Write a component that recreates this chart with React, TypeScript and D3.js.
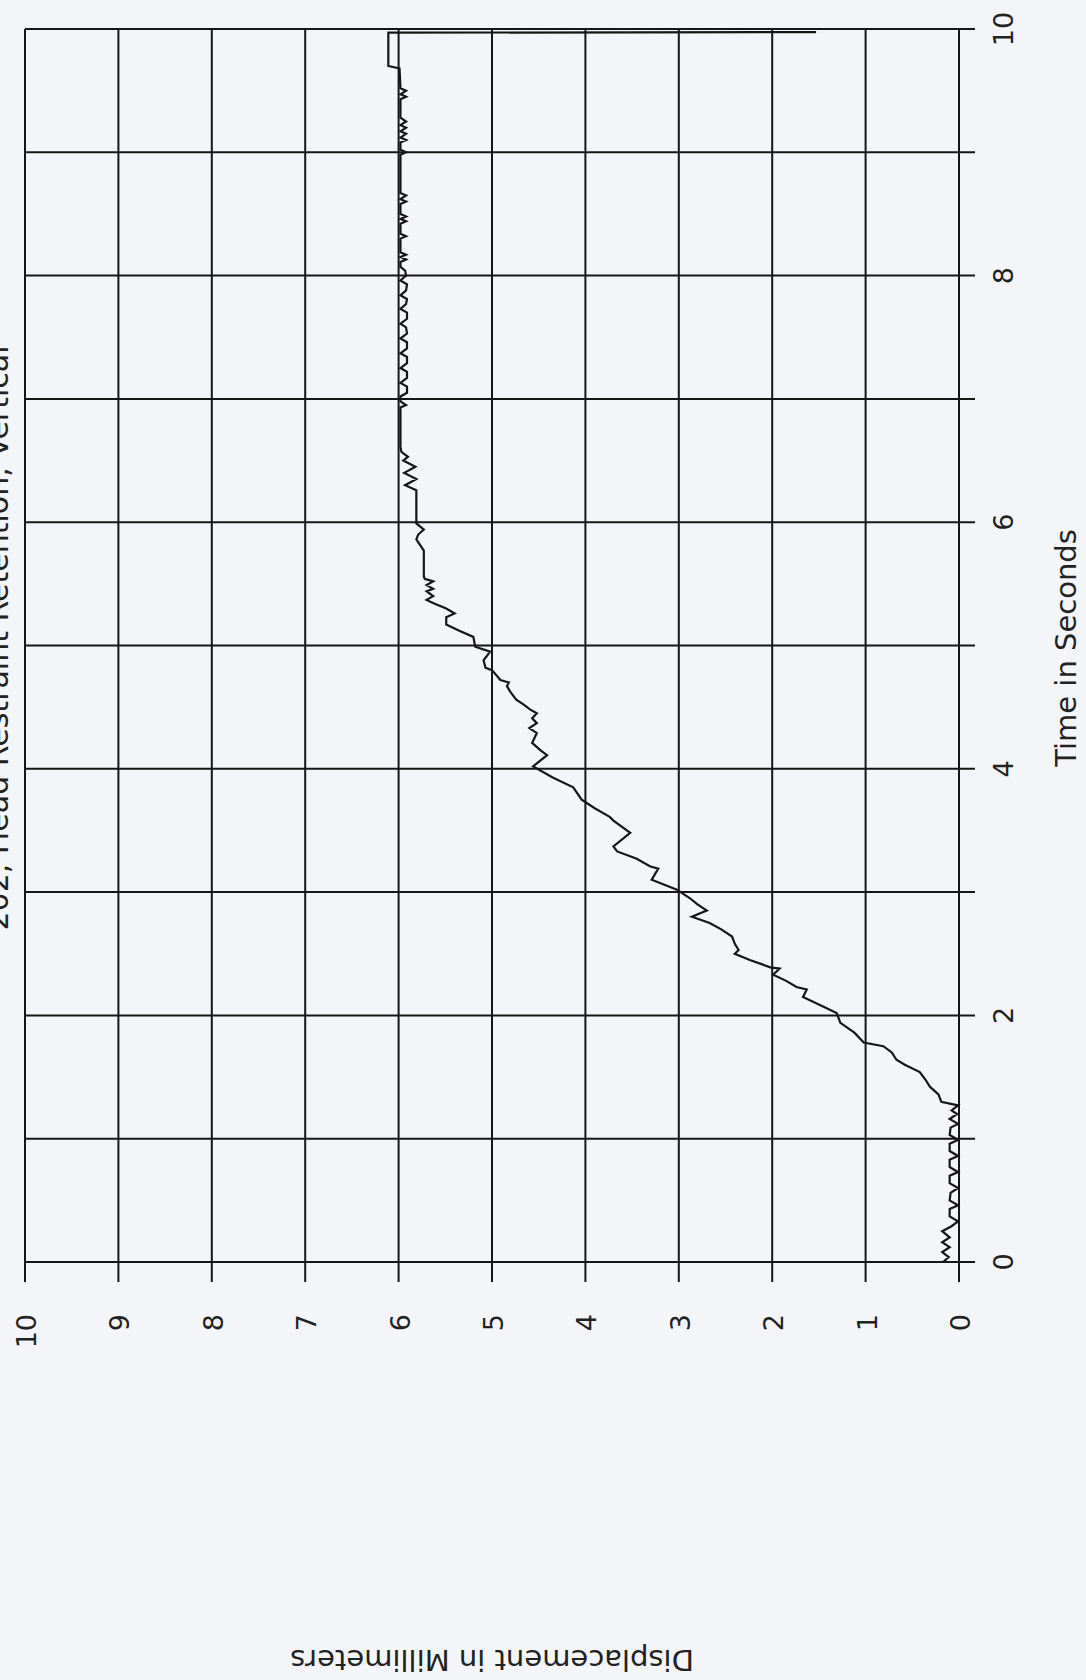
import React from "react";
import * as d3 from "d3";

// ---- data ----
const chartTitle = "202, Head Restraint Retention, Vertical";
const xAxisTitle = "Time in Seconds";
const yAxisTitle = "Displacement in Millimeters";

const timeGridTicks = [0, 1, 2, 3, 4, 5, 6, 7, 8, 9, 10];
const timeTickLabels = [0, 2, 4, 6, 8, 10];
const dispTicks = [0, 1, 2, 3, 4, 5, 6, 7, 8, 9, 10];

const timeS = [
  0.0, 0.04, 0.08, 0.12, 0.16, 0.2, 0.25, 0.29, 0.33,
  0.37, 0.43, 0.46, 0.5, 0.56, 0.6, 0.64, 0.7, 0.73, 0.77, 0.83, 0.86, 0.9, 0.96, 0.99,
  1.03, 1.09, 1.12, 1.16, 1.2, 1.23, 1.27,
  1.3, 1.36, 1.42, 1.48, 1.54, 1.6, 1.64, 1.7, 1.75, 1.78, 1.86, 1.94, 2.02, 2.07,
  2.15, 2.21, 2.23, 2.28, 2.33, 2.38, 2.39, 2.45, 2.5, 2.53, 2.58, 2.64, 2.7, 2.75,
  2.8, 2.85, 2.9, 2.95, 3.02, 3.1, 3.19, 3.21, 3.27, 3.33, 3.37, 3.48, 3.58, 3.61,
  3.68, 3.75, 3.85, 3.93, 4.02, 4.11, 4.15, 4.21, 4.29, 4.33, 4.37, 4.41, 4.45, 4.48,
  4.52, 4.56, 4.62, 4.67, 4.7, 4.72, 4.8, 4.82, 4.88, 4.95, 4.99, 5.07, 5.12, 5.17,
  5.23, 5.26, 5.3, 5.34, 5.37, 5.4, 5.44, 5.46, 5.49, 5.52, 5.54, 5.56, 5.77, 5.86,
  5.9, 5.94, 5.99, 6.24, 6.26, 6.3, 6.35, 6.4, 6.45, 6.5, 6.53, 6.57, 6.61, 6.93,
  6.95, 6.98, 7.02, 7.05, 7.1, 7.13, 7.17, 7.22, 7.25, 7.29, 7.34, 7.37, 7.41, 7.46,
  7.49, 7.53, 7.58, 7.61, 7.65, 7.7, 7.73, 7.77, 7.81, 7.84, 7.88, 7.93, 7.96, 8.0,
  8.04, 8.07, 8.11, 8.13, 8.15, 8.17, 8.19, 8.3, 8.32, 8.34, 8.42, 8.44, 8.46, 8.48,
  8.5, 8.58, 8.6, 8.62, 8.65, 8.67, 8.98, 9.0, 9.02, 9.08, 9.1, 9.12, 9.15, 9.17,
  9.2, 9.22, 9.25, 9.28, 9.43, 9.45, 9.47, 9.5, 9.52, 9.68, 9.7, 9.97, 9.975,
];

const dispMm = [
  0.17, 0.11, 0.18, 0.1, 0.18, 0.1, 0.18, 0.08, 0.01,
  0.1, 0.1, 0.01, 0.1, 0.09, 0.01, 0.1, 0.1, 0.01, 0.1, 0.1, 0.01, 0.1, 0.1, 0.01,
  0.1, 0.09, 0.01, 0.1, 0.02, 0.08, 0.01,
  0.19, 0.22, 0.31, 0.36, 0.42, 0.58, 0.67, 0.72, 0.81, 1.02, 1.12, 1.27, 1.31, 1.45,
  1.67, 1.63, 1.74, 1.85, 1.99, 1.92, 2.02, 2.24, 2.4, 2.36, 2.4, 2.43, 2.55, 2.67,
  2.86, 2.7, 2.8, 2.88, 3.02, 3.29, 3.22, 3.31, 3.45, 3.66, 3.7, 3.52, 3.7, 3.74,
  3.9, 4.04, 4.13, 4.35, 4.56, 4.41, 4.48, 4.57, 4.52, 4.6, 4.52, 4.57, 4.52, 4.59,
  4.66, 4.74, 4.8, 4.84, 4.82, 4.91, 5.0, 5.07, 5.09, 5.02, 5.18, 5.2, 5.35, 5.49,
  5.49, 5.4, 5.49, 5.62, 5.7, 5.63, 5.7, 5.63, 5.7, 5.63, 5.72, 5.73, 5.73, 5.81,
  5.79, 5.73, 5.81, 5.81, 5.81, 5.93, 5.81, 5.94, 5.82, 5.95, 5.9, 5.97, 5.98, 5.98,
  5.92, 5.98, 5.98, 5.91, 5.91, 5.98, 5.91, 5.91, 5.98, 5.91, 5.91, 5.98, 5.91, 5.91,
  5.98, 5.91, 5.92, 5.98, 5.91, 5.91, 5.98, 5.92, 5.91, 5.98, 5.92, 5.91, 5.98, 5.92,
  5.93, 5.98, 5.98, 5.92, 5.98, 5.92, 5.98, 5.98, 5.92, 5.98, 5.98, 5.92, 5.98, 5.92,
  5.98, 5.98, 5.92, 5.98, 5.92, 5.98, 5.98, 5.92, 5.98, 5.98, 5.92, 5.98, 5.92, 5.98,
  5.92, 5.98, 5.92, 5.98, 5.98, 5.92, 5.98, 5.92, 5.98, 5.99, 6.11, 6.11, 1.53,
];

// ---- layout ----
const W = 1086;
const H = 1680;
const plotLeft = 25; // screen x of displacement = 10
const plotBottom = 1262; // screen y of time = 0
const plotW = 1233; // time axis length (unrotated frame)
const plotH = 934; // displacement axis length (unrotated frame)

const FONT = "'DejaVu Sans', Verdana, sans-serif";
const INK = "#161616";

export default function App() {
  const x = d3.scaleLinear().domain([0, 10]).range([0, plotW]);
  const y = d3.scaleLinear().domain([0, 10]).range([plotH, 0]);

  const points: [number, number][] = timeS.map((t, i) => [t, dispMm[i]]);
  const line = d3
    .line<[number, number]>()
    .x((d) => x(d[0]))
    .y((d) => y(d[1]));

  return (
    <svg
      width={W}
      height={H}
      style={{ position: "absolute", left: 0, top: 0, display: "block" }}
      xmlns="http://www.w3.org/2000/svg"
    >
      <rect x={0} y={0} width={W} height={H} fill="#f4f5f8" />
      <g transform={`translate(${plotLeft},${plotBottom}) rotate(-90)`}>
        {/* vertical grid lines (time) with tick extension */}
        {timeGridTicks.map((t) => (
          <line
            key={"tg" + t}
            x1={x(t)}
            x2={x(t)}
            y1={0}
            y2={plotH + 16}
            stroke={INK}
            strokeWidth={2}
          />
        ))}
        {/* horizontal grid lines (displacement) with tick extension */}
        {dispTicks.map((d) => (
          <line
            key={"dg" + d}
            x1={-20}
            x2={plotW}
            y1={y(d)}
            y2={y(d)}
            stroke={INK}
            strokeWidth={2}
          />
        ))}
        {/* time tick labels */}
        {timeTickLabels.map((t) => (
          <text
            key={"tl" + t}
            x={x(t)}
            y={plotH + 54}
            textAnchor="middle"
            fontFamily={FONT}
            fontSize={27}
            fill="#222"
          >
            {t}
          </text>
        ))}
        {/* displacement tick labels */}
        {dispTicks.map((d) => (
          <text
            key={"dl" + d}
            x={-52}
            y={y(d) + 11}
            textAnchor="end"
            fontFamily={FONT}
            fontSize={27}
            fill="#222"
          >
            {d}
          </text>
        ))}
        {/* axis titles */}
        <text
          x={614}
          y={plotH + 117}
          textAnchor="middle"
          fontFamily={FONT}
          fontSize={29}
          fill="#222"
        >
          {xAxisTitle}
        </text>
        <text
          transform={`translate(-388, ${plotH / 2}) rotate(-90)`}
          textAnchor="middle"
          fontFamily={FONT}
          fontSize={29}
          fill="#222"
        >
          {yAxisTitle}
        </text>
        <text
          x={624}
          y={-17}
          textAnchor="middle"
          fontFamily={FONT}
          fontSize={30}
          fill="#222"
        >
          {chartTitle}
        </text>
        {/* data trace */}
        <path
          d={line(points) || ""}
          fill="none"
          stroke={INK}
          strokeWidth={2.2}
          strokeLinejoin="miter"
        />
      </g>
    </svg>
  );
}
